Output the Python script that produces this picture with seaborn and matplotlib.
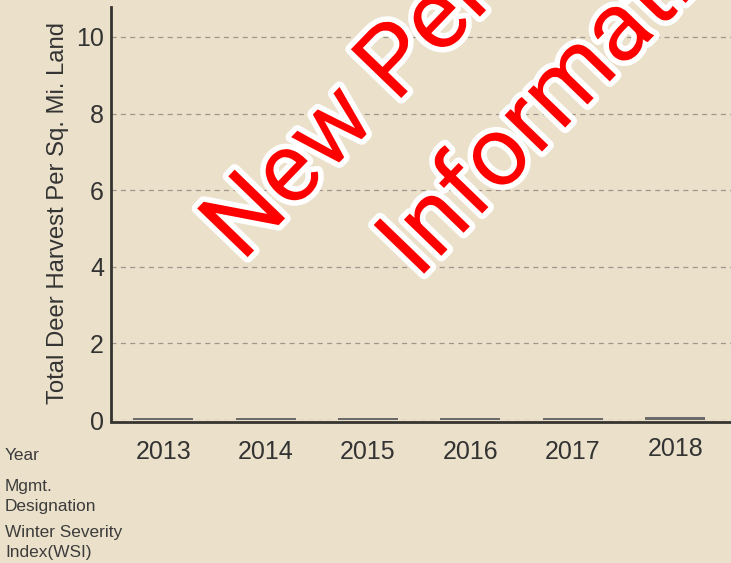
import pandas as pd
import matplotlib.pyplot as plt
import matplotlib.patheffects as pe
import matplotlib.transforms as mtransforms
import seaborn as sns

# chart data
years = ["2013", "2014", "2015", "2016", "2017", "2018"]
harvest = [0.06, 0.06, 0.06, 0.06, 0.04, 0.08]
row_labels = ["Year", "Mgmt.", "Designation", "Winter Severity", "Index(WSI)"]
watermark = ["New Permit", "Information"]

bg = "#ebe0ca"
ink = "#333333"

sns.set_style("white")
plt.rcParams["font.family"] = ["Liberation Sans", "DejaVu Sans"]

df = pd.DataFrame({"Year": years, "Harvest": harvest})

fig = plt.figure(figsize=(7.31, 5.63), dpi=100, facecolor=bg)
ax = fig.add_axes([111 / 731, 143 / 563, 620 / 731, 413 / 563])
ax.set_facecolor(bg)

sns.barplot(data=df, x="Year", y="Harvest", color="#6b6b6b", width=0.585,
            saturation=1, linewidth=0, ax=ax, zorder=3)

ax.set_xlim(-0.51, 5.545)
ax.set_ylim(0, 10.78)
ax.set_yticks([0, 2, 4, 6, 8, 10])
ax.yaxis.grid(True, color="#9e968a", linestyle=(0, (4, 3.5)), linewidth=0.9)
ax.set_axisbelow(True)

for side in ["top", "right"]:
    ax.spines[side].set_visible(False)
for side in ["left", "bottom"]:
    ax.spines[side].set_color("#363430")
    ax.spines[side].set_linewidth(2.0)
ax.spines["bottom"].set_position(("outward", 1.5))
ax.spines["bottom"].set_zorder(4)

ax.tick_params(axis="both", length=0, labelsize=18, colors=ink)
ax.tick_params(axis="x", pad=13)
ax.tick_params(axis="y", pad=5)
ax.set_xlabel("")
ax.set_ylabel("Total Deer Harvest Per Sq. Mi. Land", fontsize=17.2, color=ink, labelpad=5)

# the last year label sits a little higher in the original
lift = mtransforms.ScaledTranslation(0, 3 / 100, fig.dpi_scale_trans)
last = ax.get_xticklabels()[-1]
last.set_transform(last.get_transform() + lift)

# row labels on the left under the axis
row_y = [460, 490.5, 511, 537, 556.5]
for lab, yp in zip(row_labels, row_y):
    fig.text(5 / 731, 1 - yp / 563, lab, fontsize=12.4, color="#3c3c3c",
             ha="left", va="baseline")

# diagonal watermark
starts = [(242, 263), (418, 280)]
for txt, (xp, yp) in zip(watermark, starts):
    fig.text(xp / 731, 1 - yp / 563, txt, fontsize=71, color="#ff0000",
             family=["Roboto", "DejaVu Sans"], rotation=46, rotation_mode="anchor",
             ha="left", va="baseline", zorder=10,
             path_effects=[pe.Stroke(linewidth=8, foreground="white"), pe.Normal()])

fig.savefig("out.png", dpi=100, facecolor=bg)
